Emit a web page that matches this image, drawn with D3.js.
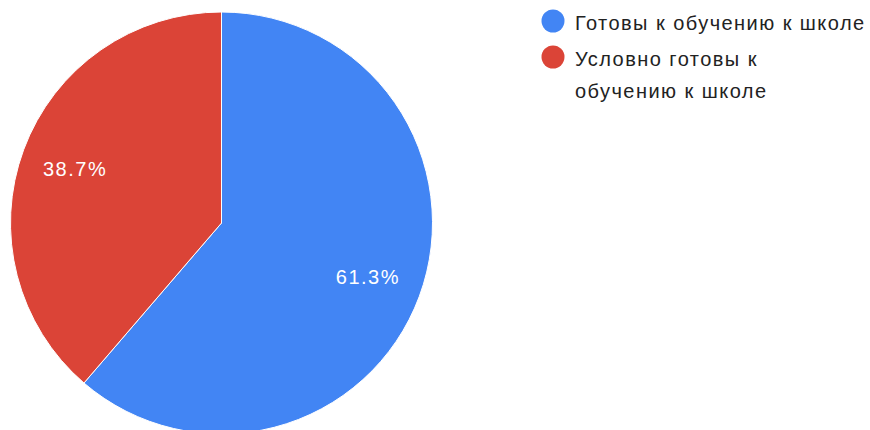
<!DOCTYPE html>
<html>
<head>
<meta charset="utf-8">
<script src="https://cdn.jsdelivr.net/npm/d3@7"></script>
<style>
  body { margin: 0; background: #fff; }
  text { font-family: "Liberation Sans", Arial, sans-serif; }
</style>
</head>
<body>
<div id="chart"></div>
<script>
//***************** data *******************/
var categories = ["Готовы к обучению к школе", "Условно готовы к обучению к школе"];
var values = [61.3, 38.7];
var legendLines = [["Готовы к обучению к школе"], ["Условно готовы к", "обучению к школе"]];
var colors = ["#4285f4", "#db4437"];

//************* dimensions ***************/
var width = 870, height = 430;
var cx = 221.5, cy = 223, radius = 211;

var svg = d3.select("#chart")
  .append("svg")
    .attr("width", width)
    .attr("height", height);

var data = categories.map(function(c, i) { return {name: c, value: values[i], color: colors[i]}; });

var pie = d3.pie()
  .sort(null)
  .value(function(d) { return d.value; });

var arc = d3.arc().innerRadius(0).outerRadius(radius);
var labelArc = d3.arc().innerRadius(radius * 0.74).outerRadius(radius * 0.74);

var g = svg.append("g")
  .attr("transform", "translate(" + cx + "," + cy + ")");

g.selectAll("path")
  .data(pie(data))
  .enter()
  .append("path")
    .attr("d", arc)
    .attr("fill", function(d) { return d.data.color; })
    .attr("stroke", "#fff")
    .attr("stroke-width", 1);

g.selectAll("text.pct")
  .data(pie(data))
  .enter()
  .append("text")
    .attr("class", "pct")
    .attr("transform", function(d) { return "translate(" + labelArc.centroid(d) + ")"; })
    .attr("text-anchor", "middle")
    .attr("dy", "0.35em")
    .attr("fill", "#fff")
    .attr("font-size", "20px")
    .style("letter-spacing", "1.5px")
    .text(function(d) { return d.data.value.toFixed(1) + "%"; });

//***************** legend *******************/
var legend = svg.append("g");
var legendY = [21, 57];

legendLines.forEach(function(lines, i) {
  legend.append("circle")
    .attr("cx", 553)
    .attr("cy", legendY[i])
    .attr("r", 11.5)
    .attr("fill", colors[i]);
  lines.forEach(function(line, j) {
    legend.append("text")
      .attr("x", 575)
      .attr("y", legendY[i] + 9 + j * 32)
      .attr("font-size", "20px")
      .attr("fill", "#222222")
      .style("letter-spacing", "1.45px")
      .text(line);
  });
});
</script>
</body>
</html>
